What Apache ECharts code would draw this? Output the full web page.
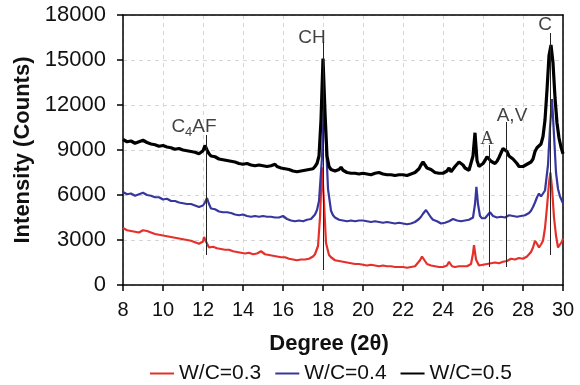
<!DOCTYPE html>
<html><head><meta charset="utf-8">
<script src="https://cdn.jsdelivr.net/npm/echarts@6/dist/echarts.min.js"></script>
<style>html,body{margin:0;padding:0;background:#fff}#c{width:580px;height:385px}</style>
</head><body><div id="c"></div>
<script>
// W/C = 0.5 (black)
var wc05 = [[8.0,9700],[8.1,9600],[8.2,9550],[8.3,9650],[8.4,9600],[8.5,9500],[8.6,9450],[8.7,9550],[8.8,9550],[8.9,9600],[9.0,9650],[9.1,9550],[9.2,9500],[9.3,9450],[9.4,9400],[9.5,9450],[9.6,9350],[9.7,9300],[9.8,9250],[9.9,9350],
[10.0,9300],[10.1,9250],[10.2,9200],[10.3,9250],[10.4,9150],[10.5,9100],[10.6,9050],[10.7,9150],[10.8,9100],[10.9,9000],[11.0,9000],[11.1,9050],[11.2,8950],[11.3,8950],[11.4,8900],[11.5,8850],[11.6,8850],[11.7,8800],[11.8,8750],
[12.0,8950],[12.1,9300],[12.2,9000],[12.3,8750],[12.4,8600],[12.5,8650],[12.6,8550],[12.7,8500],[12.8,8400],[12.9,8450],[13.0,8350],[13.1,8350],[13.2,8300],[13.3,8250],[13.4,8250],[13.5,8300],[13.6,8200],[13.7,8150],
[13.8,8100],[13.9,8150],[14.0,8050],[14.1,8050],[14.2,8100],[14.3,8050],[14.4,8000],[14.5,8000],[14.6,7950],[14.7,7950],[14.8,8000],[14.9,7950],[15.0,7950],[15.1,7900],[15.2,7900],[15.3,7850],[15.4,7950],[15.5,8000],[15.6,8050],
[15.7,7900],[15.8,7850],[15.9,7800],[16.0,7800],[16.1,7750],[16.2,7700],[16.3,7700],[16.4,7650],[16.5,7600],[16.6,7600],[16.7,7550],[16.8,7650],[16.9,7600],[17.0,7600],[17.1,7650],[17.2,7650],[17.3,7700],[17.4,7700],[17.5,7750],[17.6,7900],
[17.7,8100],[17.8,8600],[17.9,11000],[18.0,15100],[18.1,11500],[18.2,8600],[18.3,7900],[18.4,7700],[18.5,7600],[18.6,7600],[18.7,7650],[18.8,7700],[18.9,7850],[19.0,7650],
[19.1,7600],[19.2,7500],[19.3,7500],[19.4,7450],[19.5,7500],[19.6,7450],[19.7,7400],[19.8,7400],[19.9,7450],[20.0,7450],[20.1,7400],[20.2,7400],[20.3,7350],[20.4,7350],[20.5,7400],[20.6,7450],[20.7,7500],[20.8,7500],[20.9,7400],[21.0,7400],
[21.1,7350],[21.2,7350],[21.3,7400],[21.4,7350],[21.5,7300],[21.6,7300],[21.7,7350],[21.8,7350],[21.9,7300],[22.0,7350],[22.1,7300],[22.2,7300],[22.3,7350],[22.4,7400],[22.5,7400],[22.6,7500],[22.7,7600],[22.8,7750],[22.9,8000],[23.0,8200],
[23.1,8000],[23.2,7800],[23.3,7700],[23.4,7700],[23.5,7650],[23.6,7500],[23.7,7450],[23.8,7450],[23.9,7450],[24.0,7450],[24.1,7500],[24.2,7600],[24.3,7800],[24.4,7550],[24.5,7650],[24.6,7900],[24.7,8000],[24.8,8200],
[24.9,8250],[25.0,8000],[25.1,7800],[25.2,7700],[25.3,7650],[25.4,7700],[25.5,8600],[25.6,10150],[25.7,8300],[25.8,7900],[25.9,7950],[26.0,8100],[26.1,8300],[26.2,8550],[26.3,8450],
[26.4,8250],[26.5,8150],[26.6,8100],[26.7,8250],[26.8,8500],[26.9,8800],[27.0,9100],[27.1,9150],[27.2,8900],[27.3,8600],[27.4,8500],[27.5,8400],[27.6,8250],[27.7,8100],[27.8,7900],[27.9,7800],[28.0,7900],
[28.1,7950],[28.2,8050],[28.3,8100],[28.4,8200],[28.5,8400],[28.6,8900],[28.7,9150],[28.8,9100],[28.9,9400],[29.0,9900],[29.1,11000],[29.2,13000],[29.3,15300],
[29.4,16000],[29.5,14800],[29.6,12500],[29.7,10800],[29.8,9800],[29.9,9200],[30.0,8750]];
// W/C = 0.4 (blue)
var wc04 = [[8.0,6200],[8.1,6100],[8.2,6050],[8.3,6150],[8.4,6100],[8.5,6000],[8.6,5950],[8.7,6000],[8.8,6050],[8.9,6100],[9.0,6150],[9.1,6100],[9.2,6000],[9.3,5900],[9.4,5950],[9.5,5850],[9.6,5850],[9.7,5800],[9.8,5850],
[9.9,5750],[10.0,5700],[10.1,5650],[10.2,5750],[10.3,5700],[10.4,5600],[10.5,5550],[10.6,5600],[10.7,5550],[10.8,5500],[10.9,5500],[11.0,5450],[11.1,5450],[11.2,5400],[11.3,5400],[11.4,5400],[11.5,5350],[11.6,5300],[11.7,5250],[11.8,5200],
[11.9,5150],[12.0,5300],[12.1,5500],[12.2,5800],[12.3,5400],[12.4,5100],[12.5,5000],[12.6,5050],[12.7,4950],[12.8,4900],[12.9,4900],[13.0,4850],[13.1,4850],[13.2,4850],[13.3,4800],[13.4,4800],[13.5,4750],
[13.6,4700],[13.7,4700],[13.8,4650],[13.9,4650],[14.0,4700],[14.1,4650],[14.2,4600],[14.3,4600],[14.4,4550],[14.5,4550],[14.6,4600],[14.7,4600],[14.8,4550],[14.9,4550],[15.0,4600],[15.1,4600],[15.2,4550],[15.3,4500],[15.4,4550],[15.5,4550],
[15.6,4500],[15.7,4450],[15.8,4500],[15.9,4500],[16.0,4600],[16.1,4500],[16.2,4400],[16.3,4350],[16.4,4300],[16.5,4300],[16.6,4250],[16.7,4250],[16.8,4300],[16.9,4250],[17.0,4250],[17.1,4300],[17.2,4350],[17.3,4350],[17.4,4400],[17.5,4500],
[17.6,4700],[17.7,5000],[17.8,5600],[17.95,8500],[18.05,12000],[18.15,9500],[18.25,6400],[18.4,4950],[18.5,4650],[18.6,4500],[18.7,4400],[18.8,4350],[18.9,4350],[19.0,4300],
[19.1,4300],[19.2,4250],[19.3,4250],[19.4,4300],[19.5,4300],[19.6,4250],[19.7,4250],[19.8,4300],[19.9,4250],[20.0,4300],[20.1,4250],[20.2,4250],[20.3,4200],[20.4,4200],[20.5,4250],[20.6,4250],[20.7,4200],[20.8,4200],[20.9,4150],[21.0,4150],
[21.1,4200],[21.2,4200],[21.3,4150],[21.4,4150],[21.5,4100],[21.6,4100],[21.7,4150],[21.8,4150],[21.9,4100],[22.0,4100],[22.1,4050],[22.2,4050],[22.3,4100],[22.4,4100],[22.5,4150],[22.6,4200],[22.7,4300],[22.8,4400],[22.9,4550],[23.0,4750],
[23.15,5000],[23.3,4700],[23.4,4500],[23.5,4350],[23.6,4300],[23.7,4250],[23.8,4150],[23.9,4100],[24.0,4100],[24.1,4150],[24.2,4200],[24.3,4250],[24.4,4350],[24.5,4400],[24.6,4350],[24.7,4300],[24.8,4250],[24.9,4250],
[25.0,4300],[25.1,4300],[25.2,4300],[25.3,4350],[25.4,4400],[25.5,4500],[25.6,5400],[25.67,6550],[25.75,5400],[25.85,4600],[25.95,4450],[26.0,4400],[26.1,4450],[26.2,4550],[26.35,4850],
[26.5,4600],[26.6,4550],[26.7,4500],[26.8,4500],[26.9,4550],[27.0,4550],[27.1,4500],[27.2,4550],[27.3,4650],[27.4,4650],[27.5,4600],[27.6,4550],[27.7,4550],[27.8,4600],[27.9,4600],[28.0,4650],[28.1,4650],[28.2,4700],[28.3,4800],[28.4,4950],
[28.5,5200],[28.6,5500],[28.7,5850],[28.8,6100],[28.9,5900],[29.0,5800],[29.1,6300],[29.25,8000],[29.35,10500],[29.45,12400],[29.55,10000],
[29.65,7500],[29.75,6400],[29.85,5900],[30.0,5450]];
// W/C = 0.3 (red)
var wc03 = [[8.0,3800],[8.1,3700],[8.2,3650],[8.3,3700],[8.4,3600],[8.5,3550],[8.6,3550],[8.7,3600],[8.8,3500],[8.9,3550],[9.0,3650],[9.1,3750],[9.2,3600],[9.3,3500],[9.4,3500],[9.5,3450],[9.6,3400],[9.7,3350],[9.8,3350],
[9.9,3300],[10.0,3300],[10.1,3250],[10.2,3250],[10.3,3200],[10.4,3200],[10.5,3150],[10.6,3150],[10.7,3100],[10.8,3100],[10.9,3050],[11.0,3050],[11.1,3000],[11.2,3000],[11.3,2950],[11.4,2950],[11.5,2900],[11.6,2850],[11.7,2800],[11.8,2750],
[11.9,2700],[12.0,2900],[12.05,3200],[12.15,2900],[12.3,2500],[12.4,2550],[12.5,2550],[12.6,2500],[12.7,2450],[12.8,2450],[12.9,2400],[13.0,2400],[13.1,2350],[13.2,2400],[13.3,2350],[13.4,2300],
[13.5,2250],[13.6,2250],[13.7,2200],[13.8,2200],[13.9,2150],[14.0,2150],[14.1,2100],[14.2,2150],[14.3,2150],[14.4,2100],[14.5,2050],[14.6,2100],[14.7,2100],[14.8,2150],[14.9,2250],[15.0,2150],[15.1,2050],[15.2,2000],
[15.3,2000],[15.4,1950],[15.5,1950],[15.6,1950],[15.7,1900],[15.8,1900],[15.9,1850],[16.0,1850],[16.1,1850],[16.2,1800],[16.3,1750],[16.4,1750],[16.5,1700],[16.6,1650],[16.7,1650],[16.8,1700],[16.9,1700],[17.0,1650],[17.1,1700],[17.2,1750],
[17.3,1750],[17.4,1800],[17.5,1900],[17.6,2050],[17.75,2600],[17.85,4500],[17.95,7850],[18.05,5500],[18.15,2800],[18.3,2000],[18.4,1850],[18.5,1750],[18.6,1650],[18.7,1600],
[18.8,1600],[18.9,1550],[19.0,1550],[19.1,1500],[19.2,1500],[19.3,1450],[19.4,1450],[19.5,1450],[19.6,1400],[19.7,1400],[19.8,1400],[19.9,1350],[20.0,1350],[20.1,1350],[20.2,1300],[20.3,1300],[20.4,1350],[20.5,1350],[20.6,1300],[20.7,1300],
[20.8,1250],[20.9,1250],[21.0,1300],[21.1,1250],[21.2,1250],[21.3,1200],[21.4,1250],[21.5,1250],[21.6,1200],[21.7,1200],[21.8,1200],[21.9,1150],[22.0,1200],[22.1,1200],[22.2,1150],[22.3,1150],[22.4,1200],[22.5,1200],[22.6,1250],[22.7,1350],
[22.85,1650],[22.95,1900],[23.1,1600],[23.2,1400],[23.3,1300],[23.4,1300],[23.5,1250],[23.6,1250],[23.7,1200],[23.8,1200],[23.9,1150],[24.0,1200],[24.1,1200],[24.2,1300],[24.3,1550],[24.45,1250],
[24.6,1200],[24.7,1250],[24.8,1250],[24.9,1200],[25.0,1250],[25.1,1250],[25.2,1250],[25.3,1300],[25.4,1400],[25.5,2100],[25.55,2650],[25.65,1700],[25.8,1300],[25.9,1300],[26.0,1350],
[26.1,1350],[26.2,1400],[26.3,1400],[26.4,1450],[26.5,1450],[26.6,1500],[26.7,1450],[26.8,1450],[26.9,1500],[27.0,1550],[27.1,1550],[27.2,1600],[27.3,1650],[27.4,1750],[27.5,1700],[27.6,1700],[27.7,1750],[27.8,1800],[27.9,1750],[28.0,1750],
[28.1,1800],[28.2,1900],[28.3,2000],[28.4,2200],[28.5,2500],[28.6,2950],[28.7,2750],[28.8,2500],[28.9,2700],[29.0,2950],[29.1,3800],[29.2,5200],[29.3,6800],
[29.37,7500],[29.45,6500],[29.55,4500],[29.65,3300],[29.75,2500],[29.85,2400],[29.95,2900],[30.0,3100]];

var seriesNames = ['W/C=0.3','W/C=0.4','W/C=0.5'];
// phase markers: [degree, top intensity, bottom intensity]
var markerLines = [[12.15,10000,2000],[18.0,16200,1000],[26.3,9330,1200],[27.15,10870,1200],[29.35,16800,2000]];
// phase labels: [degree, intensity, text]
var markerLabels = [[11.55,10530,'{a|C}{s|4}{a|AF}'],[17.45,16470,'{a|CH}'],[26.2,9730,'{t|A}'],[27.45,11270,'{a|A,V}'],[29.1,17330,'{a|C}']];

var chart = echarts.init(document.getElementById('c'));
var F = 'Liberation Sans, Arial, sans-serif';
var frame = {axisLine:{show:true,onZero:false,lineStyle:{color:'#000',width:1.5}},axisTick:{show:false},axisLabel:{show:false},splitLine:{show:false}};
chart.setOption({
  animation:false,
  grid:{left:123,right:17,top:15,bottom:100,containLabel:false,outerBoundsMode:'none'},
  legend:{top:363,left:150,padding:0,data:seriesNames,icon:'rect',itemWidth:24,itemHeight:2,itemGap:14,
    textStyle:{fontFamily:F,fontSize:21,color:'#111'}},
  xAxis:[{type:'value',min:8,max:30,interval:2,name:'Degree (2θ)',nameLocation:'middle',nameGap:48,
    nameTextStyle:{fontFamily:F,fontSize:22,fontWeight:'bold',color:'#111',padding:[0,28,0,0]},
    axisLine:{lineStyle:{color:'#000',width:1.5}},axisTick:{length:6,lineStyle:{color:'#000',width:1.5}},
    axisLabel:{fontFamily:F,fontSize:20,color:'#111',margin:15},
    splitLine:{show:true,lineStyle:{color:'#d6d6d6',type:[4,4],width:1}}},
    Object.assign({type:'value',min:8,max:30,position:'top'},frame)],
  yAxis:[{type:'value',min:0,max:18000,interval:3000,name:'Intensity (Counts)',nameLocation:'middle',nameGap:89,
    nameTextStyle:{fontFamily:F,fontSize:22,fontWeight:'bold',color:'#111'},
    axisLine:{show:true,lineStyle:{color:'#000',width:1.5}},axisTick:{show:true,length:6,lineStyle:{color:'#000',width:1.5}},
    axisLabel:{fontFamily:F,fontSize:22,color:'#111',margin:17,formatter:function(v){return String(v);}},
    splitLine:{show:true,lineStyle:{color:'#d6d6d6',type:[4,4],width:1}}},
    Object.assign({type:'value',min:0,max:18000,position:'right'},frame)],
  series:[
    {name:seriesNames[0],type:'line',data:wc03,showSymbol:false,symbol:'none',color:'#e5302a',lineStyle:{width:2.2,color:'#e5302a'},z:3},
    {name:seriesNames[1],type:'line',data:wc04,showSymbol:false,symbol:'none',color:'#36369e',lineStyle:{width:2.2,color:'#36369e'},z:3},
    {name:seriesNames[2],type:'line',data:wc05,showSymbol:false,symbol:'none',color:'#000',lineStyle:{width:3.2,color:'#000'},z:4,
      markLine:{silent:true,symbol:'none',label:{show:false},lineStyle:{color:'#222',width:1,type:'solid'},
        data:markerLines.map(function(m){return [{coord:[m[0],m[1]]},{coord:[m[0],m[2]]}];})}},
    {type:'scatter',data:markerLabels.map(function(m){return [m[0],m[1],m[2]];}),symbolSize:0,z:6,silent:true,
      label:{show:true,position:'inside',formatter:function(p){return p.data[2];},
        rich:{a:{fontFamily:F,fontSize:19,color:'#111',lineHeight:24},s:{fontFamily:F,fontSize:13,color:'#111',padding:[10,0,0,0],lineHeight:24},
              t:{fontFamily:'Liberation Serif, Times New Roman, serif',fontSize:19,color:'#111',lineHeight:24}}}}
  ]
});
</script></body></html>
